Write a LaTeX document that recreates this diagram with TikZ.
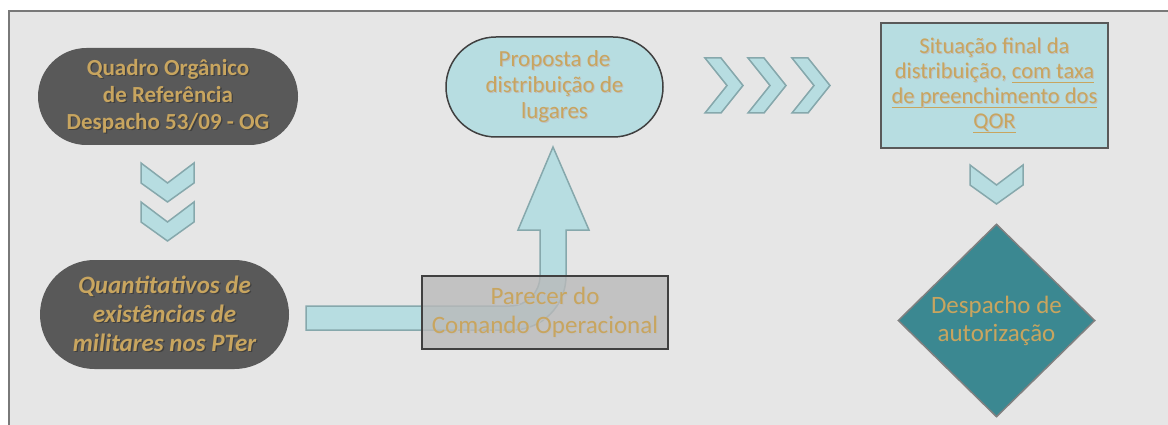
\documentclass[tikz,border=0pt]{standalone}
\usepackage{fontspec}
\setmainfont{Carlito}
\usetikzlibrary{shapes.geometric}
\definecolor{gold}{HTML}{C8A55F}
\definecolor{dark}{HTML}{595959}
\definecolor{lblue}{HTML}{B7DDE1}
\definecolor{lbstroke}{HTML}{86A8AC}
\definecolor{teal}{HTML}{3B8891}
\definecolor{bg}{HTML}{E6E6E6}
\newcommand\shd[1]{\makebox[0pt][l]{\hspace{1.3pt}\raisebox{-1.3pt}{\textcolor{black!75}{#1}}}#1}
\newcommand\shl[1]{\makebox[0pt][l]{\hspace{1pt}\raisebox{-1pt}{\textcolor{black!25}{#1}}}#1}
\newcommand\ulin[1]{{\setbox0\hbox{#1}\rlap{\rule[-4pt]{\wd0}{1pt}}\box0}}
\tikzset{
  x=1pt, y=-1pt,
  darkpill/.style={fill=dark, draw=none, text=gold, align=center, inner sep=0pt},
  chev/.style={fill=lblue, draw=lbstroke, line width=1.5pt, line join=miter},
  chevdown/.pic={\draw[chev] (-26.5,0) -- (0,20) -- (26.5,0) -- (26.5,20) -- (0,39) -- (-26.5,20) -- cycle;},
  chevright/.pic={\draw[chev] (0,0) -- (16,0) -- (38,27.5) -- (16,55) -- (0,55) -- (22,27.5) -- cycle;},
}
\begin{document}
\begin{tikzpicture}
\useasboundingbox (0,0) rectangle (1168,425);
\fill[white] (0,0) rectangle (1168,425);
\draw[fill=bg, draw=gray!95!black, line width=2pt] (9,11) rectangle (1180,440);

% node 1
\node[darkpill, minimum width=260, minimum height=97, rounded corners=48.5,
  font=\fontsize{23}{27}\selectfont\bfseries] (qo) at (168,96.5)
  {\shd{Quadro Orgânico}\\ \shd{de Referência}\\ \shd{Despacho 53/09 - OG}};

% chevrons down
\pic at (167.5,163) {chevdown};
\pic at (167.5,202) {chevdown};

% node 2
\node[darkpill, minimum width=249, minimum height=109, rounded corners=54.5,
  font=\fontsize{25}{29}\selectfont\bfseries\itshape] (qt) at (164.5,314.5)
  {\shd{Quantitativos de}\\ \shd{existências de}\\ \shd{militares nos PTer}};

% node 3
\node[fill=lblue, draw=black!75, line width=1.5pt, minimum width=217, minimum height=100,
  rounded corners=50, text=gold, align=center, inner sep=0pt,
  font=\fontsize{23}{26}\selectfont] (pd) at (554.5,87)
  {\shl{Proposta de}\\ \shl{distribuição de}\\ \shl{lugares}};

% bent block arrow
\draw[fill=lblue, draw=lbstroke, line width=1.5pt, line join=miter]
  (306,306) -- (510,306) arc[start angle=90, end angle=0, radius=30] -- (540,230)
  -- (518,230) -- (553,147) -- (589,230) -- (566,230) -- (566,276)
  arc[start angle=0, end angle=90, radius=54] -- (306,330) -- cycle;

% node parecer
\node[fill=gray!55, fill opacity=0.8, text opacity=1, draw=black!75, line width=2pt,
  minimum width=246, minimum height=73, inner sep=0pt, text=gold, align=center,
  font=\fontsize{25}{29}\selectfont] (pc) at (545,312.5)
  {\shl{Parecer do}\\ \shl{Comando Operacional}};

% chevrons right
\pic at (705,58) {chevright};
\pic at (748,58) {chevright};
\pic at (792,58) {chevright};

% node 4
\node[fill=lblue, draw=dark, line width=2pt, minimum width=227, minimum height=125,
  inner sep=0pt, text=gold, align=center, font=\fontsize{22.5}{25}\selectfont] (sf) at (994.5,85.5)
  {\shl{Situação final da}\\ \shl{distribuição,} \ulin{\shl{com taxa}}\\ \ulin{\shl{de preenchimento dos}}\\ \ulin{\shl{QOR}}};

% chevron down
\pic at (996.5,165) {chevdown};

% diamond
\node[diamond, fill=teal, draw=gray, line width=1.5pt, minimum width=197, minimum height=193,
  inner sep=0pt, text=gold, align=center, font=\fontsize{25}{28}\selectfont] (da) at (996.5,320.5)
  {Despacho de\\ autorização};
\end{tikzpicture}
\end{document}
